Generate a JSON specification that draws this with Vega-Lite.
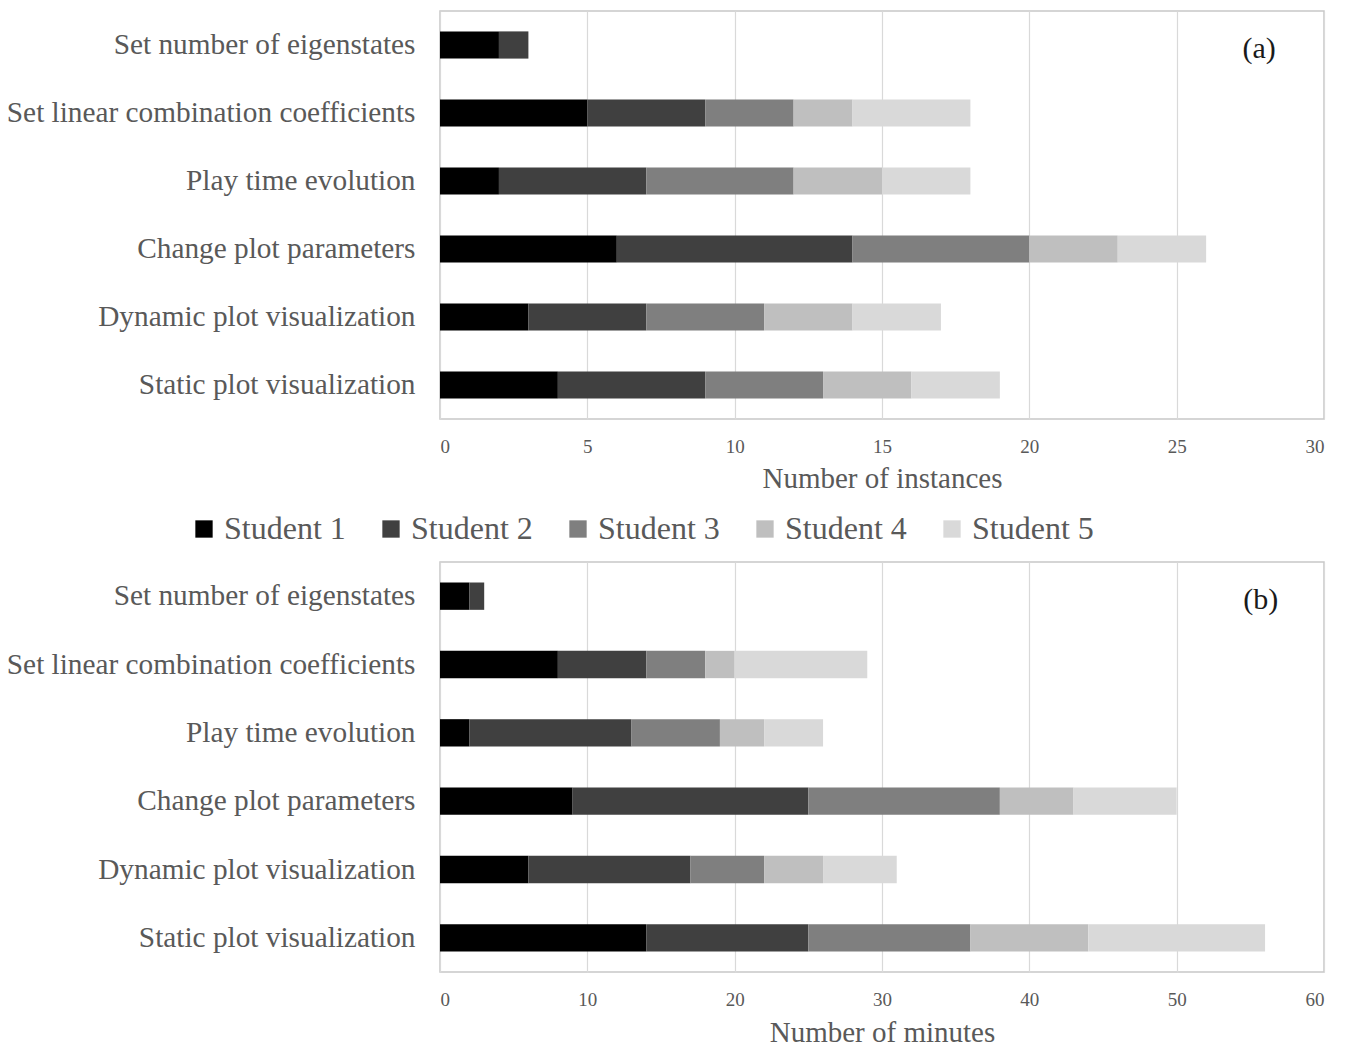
{
  "$schema": "https://vega.github.io/schema/vega-lite/v6.json",
  "padding": {"left": 5, "top": 10, "right": 8, "bottom": 5},
  "background": "white",
  "config": {
    "font": "Liberation Serif",
    "view": {"stroke": "#c8c8c8", "strokeWidth": 1.5},
    "axis": {"labelColor": "#595959", "titleColor": "#595959", "titleFontWeight": "normal", "ticks": false, "domain": false},
    "axisX": {"labelFontSize": 19, "titleFontSize": 29, "labelPadding": 18, "titlePadding": 8, "gridColor": "#d9d9d9", "gridWidth": 1.2},
    "axisY": {"labelFontSize": 29.3, "labelPadding": 25, "labelLimit": 0, "grid": false},
    "legend": {"labelFontSize": 32, "labelColor": "#595959", "symbolType": "square", "symbolSize": 300, "symbolStrokeWidth": 0, "columnPadding": 29, "labelOffset": 4},
    "concat": {"spacing": 18}
  },
  "datasets": {
    "instances": [
      {"task": "Set number of eigenstates", "student": "Student 1", "value": 2},
      {"task": "Set number of eigenstates", "student": "Student 2", "value": 1},
      {"task": "Set linear combination coefficients", "student": "Student 1", "value": 5},
      {"task": "Set linear combination coefficients", "student": "Student 2", "value": 4},
      {"task": "Set linear combination coefficients", "student": "Student 3", "value": 3},
      {"task": "Set linear combination coefficients", "student": "Student 4", "value": 2},
      {"task": "Set linear combination coefficients", "student": "Student 5", "value": 4},
      {"task": "Play time evolution", "student": "Student 1", "value": 2},
      {"task": "Play time evolution", "student": "Student 2", "value": 5},
      {"task": "Play time evolution", "student": "Student 3", "value": 5},
      {"task": "Play time evolution", "student": "Student 4", "value": 3},
      {"task": "Play time evolution", "student": "Student 5", "value": 3},
      {"task": "Change plot parameters", "student": "Student 1", "value": 6},
      {"task": "Change plot parameters", "student": "Student 2", "value": 8},
      {"task": "Change plot parameters", "student": "Student 3", "value": 6},
      {"task": "Change plot parameters", "student": "Student 4", "value": 3},
      {"task": "Change plot parameters", "student": "Student 5", "value": 3},
      {"task": "Dynamic plot visualization", "student": "Student 1", "value": 3},
      {"task": "Dynamic plot visualization", "student": "Student 2", "value": 4},
      {"task": "Dynamic plot visualization", "student": "Student 3", "value": 4},
      {"task": "Dynamic plot visualization", "student": "Student 4", "value": 3},
      {"task": "Dynamic plot visualization", "student": "Student 5", "value": 3},
      {"task": "Static plot visualization", "student": "Student 1", "value": 4},
      {"task": "Static plot visualization", "student": "Student 2", "value": 5},
      {"task": "Static plot visualization", "student": "Student 3", "value": 4},
      {"task": "Static plot visualization", "student": "Student 4", "value": 3},
      {"task": "Static plot visualization", "student": "Student 5", "value": 3}
    ],
    "minutes": [
      {"task": "Set number of eigenstates", "student": "Student 1", "value": 2},
      {"task": "Set number of eigenstates", "student": "Student 2", "value": 1},
      {"task": "Set linear combination coefficients", "student": "Student 1", "value": 8},
      {"task": "Set linear combination coefficients", "student": "Student 2", "value": 6},
      {"task": "Set linear combination coefficients", "student": "Student 3", "value": 4},
      {"task": "Set linear combination coefficients", "student": "Student 4", "value": 2},
      {"task": "Set linear combination coefficients", "student": "Student 5", "value": 9},
      {"task": "Play time evolution", "student": "Student 1", "value": 2},
      {"task": "Play time evolution", "student": "Student 2", "value": 11},
      {"task": "Play time evolution", "student": "Student 3", "value": 6},
      {"task": "Play time evolution", "student": "Student 4", "value": 3},
      {"task": "Play time evolution", "student": "Student 5", "value": 4},
      {"task": "Change plot parameters", "student": "Student 1", "value": 9},
      {"task": "Change plot parameters", "student": "Student 2", "value": 16},
      {"task": "Change plot parameters", "student": "Student 3", "value": 13},
      {"task": "Change plot parameters", "student": "Student 4", "value": 5},
      {"task": "Change plot parameters", "student": "Student 5", "value": 7},
      {"task": "Dynamic plot visualization", "student": "Student 1", "value": 6},
      {"task": "Dynamic plot visualization", "student": "Student 2", "value": 11},
      {"task": "Dynamic plot visualization", "student": "Student 3", "value": 5},
      {"task": "Dynamic plot visualization", "student": "Student 4", "value": 4},
      {"task": "Dynamic plot visualization", "student": "Student 5", "value": 5},
      {"task": "Static plot visualization", "student": "Student 1", "value": 14},
      {"task": "Static plot visualization", "student": "Student 2", "value": 11},
      {"task": "Static plot visualization", "student": "Student 3", "value": 11},
      {"task": "Static plot visualization", "student": "Student 4", "value": 8},
      {"task": "Static plot visualization", "student": "Student 5", "value": 12}
    ],
    "labels_a": [{"label": "(a)", "x": 27.8, "task": "Set number of eigenstates"}],
    "labels_b": [{"label": "(b)", "x": 55.7, "task": "Set number of eigenstates"}]
  },
  "vconcat": [
    {
      "width": 884,
      "height": 408,
      "layer": [
        {
          "data": {"name": "instances"},
          "mark": {"type": "bar"},
          "encoding": {
            "x": {"field": "value", "type": "quantitative", "stack": "zero", "scale": {"domain": [0, 30], "nice": false}, "axis": {"values": [0, 5, 10, 15, 20, 25, 30], "title": "Number of instances"}},
            "y": {"field": "task", "type": "nominal", "sort": null, "scale": {"domain": ["Set number of eigenstates", "Set linear combination coefficients", "Play time evolution", "Change plot parameters", "Dynamic plot visualization", "Static plot visualization"], "paddingInner": 0.6, "paddingOuter": 0.3}, "axis": {"title": null}},
            "color": {"field": "student", "type": "nominal", "scale": {"domain": ["Student 1", "Student 2", "Student 3", "Student 4", "Student 5"], "range": ["#000000", "#404040", "#7f7f7f", "#bfbfbf", "#d9d9d9"]}, "legend": null},
            "order": {"field": "student", "type": "ordinal"}
          }
        },
        {
          "data": {"name": "labels_a"},
          "mark": {"type": "text", "fontSize": 30, "color": "#1a1a1a", "dy": 4},
          "encoding": {
            "x": {"field": "x", "type": "quantitative"},
            "y": {"field": "task", "type": "nominal", "sort": null},
            "text": {"field": "label"}
          }
        }
      ]
    },
    {
      "width": 884,
      "height": 410,
      "layer": [
        {
          "data": {"name": "minutes"},
          "mark": {"type": "bar"},
          "encoding": {
            "x": {"field": "value", "type": "quantitative", "stack": "zero", "scale": {"domain": [0, 60], "nice": false}, "axis": {"values": [0, 10, 20, 30, 40, 50, 60], "title": "Number of minutes", "titlePadding": 9}},
            "y": {"field": "task", "type": "nominal", "sort": null, "scale": {"domain": ["Set number of eigenstates", "Set linear combination coefficients", "Play time evolution", "Change plot parameters", "Dynamic plot visualization", "Static plot visualization"], "paddingInner": 0.6, "paddingOuter": 0.3}, "axis": {"title": null}},
            "color": {"field": "student", "type": "nominal", "scale": {"domain": ["Student 1", "Student 2", "Student 3", "Student 4", "Student 5"], "range": ["#000000", "#404040", "#7f7f7f", "#bfbfbf", "#d9d9d9"]}, "legend": {"title": null, "orient": "none", "direction": "horizontal", "legendX": -252, "legendY": -49}},
            "order": {"field": "student", "type": "ordinal"}
          }
        },
        {
          "data": {"name": "labels_b"},
          "mark": {"type": "text", "fontSize": 30, "color": "#1a1a1a", "dy": 4},
          "encoding": {
            "x": {"field": "x", "type": "quantitative"},
            "y": {"field": "task", "type": "nominal", "sort": null},
            "text": {"field": "label"}
          }
        }
      ]
    }
  ],
  "resolve": {"scale": {"x": "independent", "y": "independent"}, "legend": {"color": "independent"}}
}
